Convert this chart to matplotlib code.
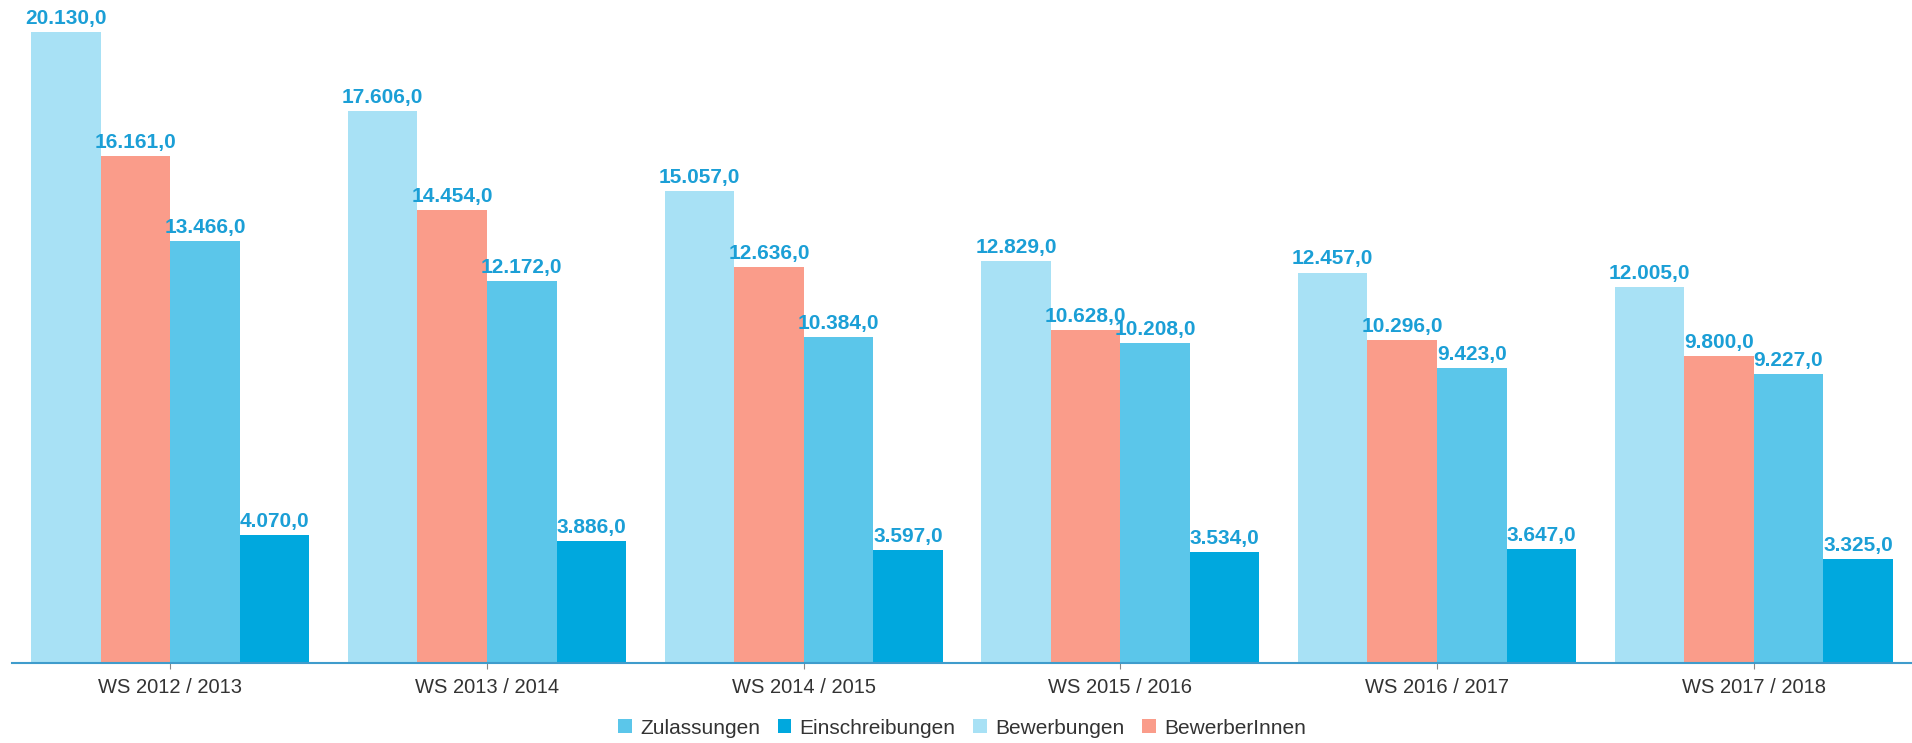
import matplotlib
matplotlib.use("Agg")
import matplotlib.pyplot as plt
import numpy as np
from matplotlib.patches import Patch

categories = ["WS 2012 / 2013", "WS 2013 / 2014", "WS 2014 / 2015",
              "WS 2015 / 2016", "WS 2016 / 2017", "WS 2017 / 2018"]
bewerbungen = [20130, 17606, 15057, 12829, 12457, 12005]
bewerberinnen = [16161, 14454, 12636, 10628, 10296, 9800]
zulassungen = [13466, 12172, 10384, 10208, 9423, 9227]
einschreibungen = [4070, 3886, 3597, 3534, 3647, 3325]

series = [
    ("Bewerbungen", bewerbungen, "#a8e1f5"),
    ("BewerberInnen", bewerberinnen, "#fa9c8a"),
    ("Zulassungen", zulassungen, "#5bc6ea"),
    ("Einschreibungen", einschreibungen, "#00a8de"),
]
legend_order = ["Zulassungen", "Einschreibungen", "Bewerbungen", "BewerberInnen"]

W, H = 1912, 743
fig = plt.figure(figsize=(W / 100, H / 100), dpi=100)
ax = fig.add_axes([12 / W, 80 / H, 1900 / W, 663 / H])

x = np.arange(len(categories))
bw = 0.2195
label_color = "#1b9fd6"

def fmt(v):
    s = f"{v:,.1f}"
    return s.replace(",", "X").replace(".", ",").replace("X", ".")

for i, (name, vals, col) in enumerate(series):
    pos = x + (i - 1.5) * bw
    ax.bar(pos, vals, width=bw, color=col, edgecolor="none", zorder=2)
    for p, v in zip(pos, vals):
        ax.text(p, v + 130, fmt(v), ha="center", va="bottom",
                fontsize=15, fontweight="bold", color=label_color,
                family="Liberation Sans")

ax.set_xlim(-0.5, 5.5)
ax.set_ylim(0, 21150)
for s in ["top", "right", "left"]:
    ax.spines[s].set_visible(False)
ax.spines["bottom"].set_color("#3f9ccc")
ax.spines["bottom"].set_linewidth(1.5)
ax.set_yticks([])
ax.set_xticks(x)
ax.set_xticklabels(categories, fontsize=14.5, color="#333333",
                   family="Liberation Sans")
ax.tick_params(axis="x", length=4, color="#888888", pad=7)

colmap = {n: c for n, _, c in series}
handles = [Patch(facecolor=colmap[n], edgecolor="none", label=n) for n in legend_order]
fig.legend(handles=handles, loc="center", bbox_to_anchor=(962 / W, 1 - 728 / H),
           ncol=4, frameon=False,
           prop={"family": "Liberation Sans", "size": 15},
           handlelength=0.65, handleheight=0.65, handletextpad=0.4,
           columnspacing=0.85, labelcolor="#333333", borderpad=0)

fig.savefig("out.png", dpi=100)
